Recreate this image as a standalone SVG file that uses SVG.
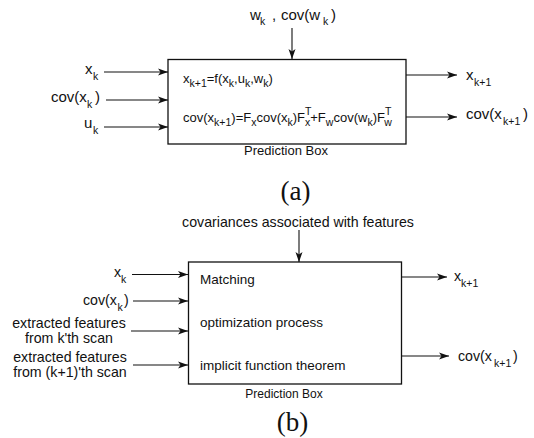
<svg xmlns="http://www.w3.org/2000/svg" width="534" height="438" viewBox="0 0 534 438">
<style>
text{font-family:"Liberation Sans",Arial,sans-serif;fill:#111}
.lab{font-size:15px}
.labb{font-size:14.2px}
.in{font-size:13px}
.inb{font-size:13.5px}
.sb{font-size:10.5px}
.cap{font-size:13px}
.ser{font-family:"Liberation Serif","Times New Roman",serif;font-size:27px;text-anchor:middle}
.box{fill:#fff;stroke:#111;stroke-width:1.3}
.ln{stroke:#111;stroke-width:1.1;fill:none;marker-end:url(#ah)}
</style>
<defs>
<marker id="ah" markerUnits="userSpaceOnUse" markerWidth="10" markerHeight="8" refX="10" refY="4" orient="auto">
<path d="M0,0.5 L10,4 L0,7.5 L2.5,4 Z" fill="#111"/>
</marker>
</defs>

<!-- (a) -->
<g id="box-a">
<rect class="box" x="168" y="59.5" width="238" height="84.5"/>
<text class="in" x="183" y="83">x<tspan class="sb" dy="4">k+1</tspan><tspan dy="-4">=f(x</tspan><tspan class="sb" dy="4">k</tspan><tspan dy="-4">,u</tspan><tspan class="sb" dy="4">k</tspan><tspan dy="-4">,w</tspan><tspan class="sb" dy="4">k</tspan><tspan dy="-4">)</tspan></text>
<text class="in" x="183" y="122">cov(x<tspan class="sb" dy="4">k+1</tspan><tspan dy="-4">)=F</tspan><tspan class="sb" dy="4">x</tspan><tspan dy="-4">cov(x</tspan><tspan class="sb" dy="4">k</tspan><tspan dy="-4">)F</tspan><tspan class="sb" dy="-7">T</tspan><tspan class="sb" dx="-6.4" dy="11">x</tspan><tspan dy="-4">+F</tspan><tspan class="sb" dy="4">w</tspan><tspan dy="-4">cov(w</tspan><tspan class="sb" dy="4">k</tspan><tspan dy="-4">)F</tspan><tspan class="sb" dy="-7">T</tspan><tspan class="sb" dx="-6.4" dy="11">w</tspan></text>
<text class="cap" x="286" y="155" text-anchor="middle">Prediction Box</text>
</g>
<g id="in-a">
<text class="lab" x="85" y="74">x<tspan class="sb" x="93" dy="6">k</tspan></text>
<text class="lab" x="51" y="102">cov(x<tspan class="sb" x="87" dy="6">k</tspan><tspan x="95" dy="-6">)</tspan></text>
<text class="lab" x="84" y="128">u<tspan class="sb" x="93" dy="6">k</tspan></text>
<text class="lab" x="250" y="20">w<tspan class="sb" x="260" dy="5">k</tspan><tspan x="272" dy="-5">,</tspan><tspan x="281">cov(w</tspan><tspan class="sb" x="323" dy="5">k</tspan><tspan x="331" dy="-5">)</tspan></text>
</g>
<g id="out-a">
<text class="lab" x="466" y="80">x<tspan class="sb" x="474" dy="6">k+1</tspan></text>
<text class="lab" x="466" y="119">cov(x<tspan class="sb" x="503" dy="6">k+1</tspan><tspan x="523" dy="-6">)</tspan></text>
</g>
<text class="ser" x="295.5" y="200">(a)</text>

<!-- (b) -->
<g id="box-b">
<rect class="box" x="188.5" y="262" width="213" height="122"/>
<text class="inb" x="200" y="283.5">Matching</text>
<text class="inb" x="200" y="326.5">optimization process</text>
<text class="inb" x="200" y="369.5">implicit function theorem</text>
<text class="cap" x="284" y="398" style="font-size:12px" text-anchor="middle">Prediction Box</text>
</g>
<g id="in-b">
<text class="labb" x="298" y="227" text-anchor="middle" style="font-size:14.2px">covariances associated with features</text>
<text class="labb" x="114" y="277">x<tspan class="sb" x="121" dy="6">k</tspan></text>
<text class="labb" x="83" y="305">cov(x<tspan class="sb" x="117.5" dy="6">k</tspan><tspan x="124" dy="-6">)</tspan></text>
<text class="labb" text-anchor="middle"><tspan x="69" y="328">extracted features</tspan><tspan x="69" y="342.5">from k'th scan</tspan></text>
<text class="labb" text-anchor="middle"><tspan x="70" y="362">extracted features</tspan><tspan x="70" y="376.5">from (k+1)'th scan</tspan></text>
</g>
<g id="out-b">
<text class="labb" x="454" y="280.5">x<tspan class="sb" x="461" dy="6">k+1</tspan></text>
<text class="labb" x="458" y="360.5">cov(x<tspan class="sb" x="494" dy="6">k+1</tspan><tspan x="513" dy="-6">)</tspan></text>
</g>
<text class="ser" x="292.5" y="431">(b)</text>

<g id="connectors">
<line class="ln" x1="292" y1="28" x2="292" y2="59"/>
<line class="ln" x1="104" y1="72" x2="168" y2="72"/>
<line class="ln" x1="106" y1="100" x2="168" y2="100"/>
<line class="ln" x1="104" y1="127" x2="168" y2="127"/>
<line class="ln" x1="406" y1="75" x2="457" y2="75"/>
<line class="ln" x1="406" y1="117" x2="457" y2="117"/>
<line class="ln" x1="299" y1="230" x2="299" y2="262"/>
<line class="ln" x1="132" y1="274.5" x2="188" y2="274.5"/>
<line class="ln" x1="133" y1="301" x2="188" y2="301"/>
<line class="ln" x1="131" y1="331" x2="188" y2="331"/>
<line class="ln" x1="133" y1="365" x2="188" y2="365"/>
<line class="ln" x1="401" y1="277" x2="447" y2="277"/>
<line class="ln" x1="401" y1="356" x2="449" y2="356"/>
</g>
</svg>
